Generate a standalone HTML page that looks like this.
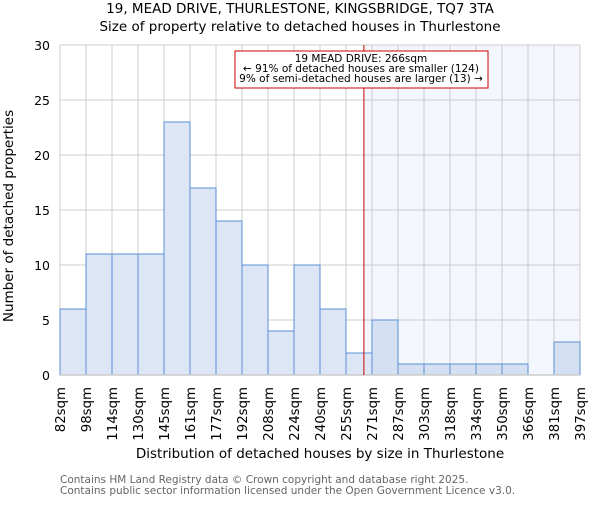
<!DOCTYPE html>
<html><head><meta charset="utf-8"><style>
body{margin:0;background:#fff;width:600px;height:500px;overflow:hidden}
text{font-family:"DejaVu Sans","Liberation Sans",sans-serif}
</style></head><body>
<svg id="chart" width="600" height="500" xmlns="http://www.w3.org/2000/svg">
<text x="300" y="13" text-anchor="middle" font-size="13.5" fill="#000">19, MEAD DRIVE, THURLESTONE, KINGSBRIDGE, TQ7 3TA</text>
<text x="300" y="31" text-anchor="middle" font-size="13.5" fill="#000">Size of property relative to detached houses in Thurlestone</text>
<g id="plot"></g>
<text x="320" y="458" text-anchor="middle" font-size="13.5" fill="#000">Distribution of detached houses by size in Thurlestone</text>
<text transform="translate(13,216) rotate(-90)" text-anchor="middle" font-size="13.5" fill="#000">Number of detached properties</text>
<text x="60" y="483" font-size="10.5" fill="#666">Contains HM Land Registry data © Crown copyright and database right 2025.</text>
<text x="60" y="494" font-size="10.5" fill="#666">Contains public sector information licensed under the Open Government Licence v3.0.</text>
</svg>
<script>
const binLabels=["82sqm","98sqm","114sqm","130sqm","145sqm","161sqm","177sqm","192sqm","208sqm","224sqm","240sqm","255sqm","271sqm","287sqm","303sqm","318sqm","334sqm","350sqm","366sqm","381sqm","397sqm"];
const binEdges=[82,98,114,130,145,161,177,192,208,224,240,255,271,287,303,318,334,350,366,381,397];
const counts=[6,11,11,11,23,17,14,10,4,10,6,2,5,1,1,1,1,1,0,3];
const yTicks=[0,5,10,15,20,25,30];
const propertySize=266;
const annotationLines=["19 MEAD DRIVE: 266sqm","← 91% of detached houses are smaller (124)","9% of semi-detached houses are larger (13) →"];

const X0=60,X1=580,Y0=375,Y1=45,yMax=30;
const nb=counts.length;
const xi=i=>X0+(X1-X0)*i/nb;
const xv=v=>{let i=0;while(i<nb-1&&v>binEdges[i+1])i++;return xi(i)+(v-binEdges[i])/(binEdges[i+1]-binEdges[i])*(xi(i+1)-xi(i));};
const y=v=>Y0-(Y0-Y1)*v/yMax;
const NS="http://www.w3.org/2000/svg";
const g=document.getElementById('plot');
function mk(t,a){const e=document.createElementNS(NS,t);for(const k in a)e.setAttribute(k,a[k]);g.appendChild(e);return e;}
const px=xv(propertySize);
let e=mk('rect',{x:px,y:Y1,width:X1-px,height:Y0-Y1,fill:'#f3f6fd'});


yTicks.forEach(t=>{const l=mk('line',{x1:X0,x2:X1,y1:y(t),y2:y(t),stroke:'#cccccc','stroke-width':1});


const tx=mk('text',{x:X0-10,y:y(t)+5,'text-anchor':'end','font-size':12.5,fill:'#000'});tx.textContent=t;

});
for(let i=0;i<=nb;i++){const l=mk('line',{x1:xi(i),x2:xi(i),y1:Y1,y2:Y0,stroke:'#cccccc','stroke-width':1});

}
counts.forEach((c,i)=>{if(c<=0)return;const hi=xi(i)>=px-1;
const r=mk('rect',{x:xi(i),y:y(c),width:xi(i+1)-xi(i),height:Y0-y(c),fill:hi?'#d4e0f2':'#dce6f4',stroke:'#5b8fd6','stroke-width':1});

});
e=mk('line',{x1:X0,x2:X1,y1:Y0,y2:Y0,stroke:'#cccccc','stroke-width':1.5});


binLabels.forEach((s,i)=>{const t=mk('text',{transform:`translate(${xi(i)+5},387) rotate(-90)`,'text-anchor':'end','font-size':13.3,fill:'#000'});t.textContent=s;

});
e=mk('line',{x1:px,x2:px,y1:Y1,y2:Y0,stroke:'#cc0000','stroke-width':1});


e=mk('rect',{x:235,y:51,width:253,height:37,fill:'#fff',stroke:'#cc0000','stroke-width':1});


annotationLines.forEach((s,i)=>{const t=mk('text',{x:361,y:62+i*10,'text-anchor':'middle','font-size':10.5,fill:'#000'});t.textContent=s;

});
</script>
</body></html>
